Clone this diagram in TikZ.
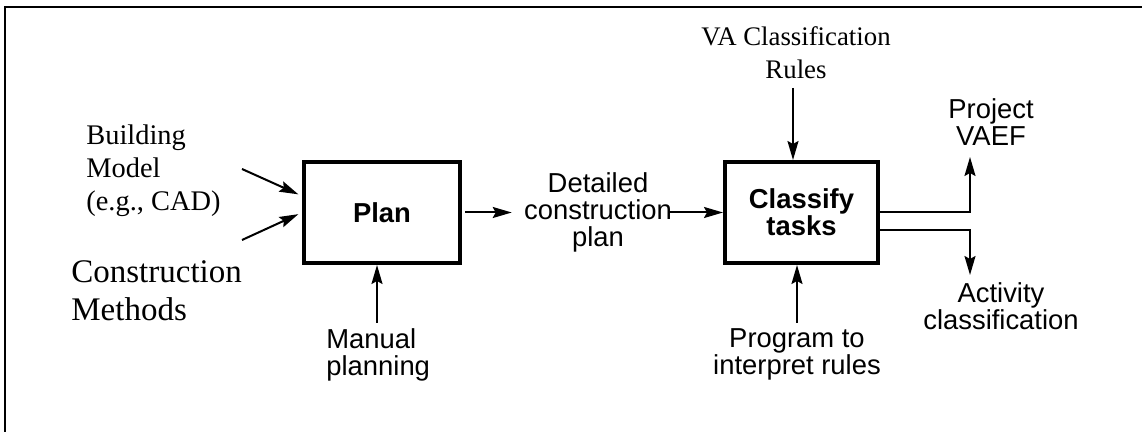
\documentclass[tikz,border=0pt]{standalone}
\usepackage{fontspec}
\setmainfont{Liberation Serif}
\setsansfont{Liberation Sans}
\usetikzlibrary{arrows.meta}
\usetikzlibrary{positioning}
\tikzstyle{process} = [draw, line width=2pt, inner sep=0pt, align=center,
        minimum height=50.5pt, font={\sffamily\bfseries\fontsize{13.7}{13.7}\selectfont}]
\tikzstyle{sanstext} = [inner sep=0pt, font={\sffamily\fontsize{13.7}{13.5}\selectfont}]
\tikzstyle{seriftext} = [inner sep=0pt, align=left, font={\fontsize{14.2}{16.5}\selectfont}]
\tikzstyle{flow} = [-{Stealth[length=9.5pt, width=5.5pt, inset=1.5pt]}, line width=1pt]

\begin{document}
\begin{tikzpicture}[x=0.5pt, y=-0.5pt]
            \useasboundingbox (0,0) rectangle (1142,432);
            \draw [line width=1pt] (5,432) |- (1142,7);
            % boxes
            \node [process, minimum width=78pt] (plan) at (382,212.5) {Plan};
            \node [process, minimum width=76.5pt] (classify) at (801.5,212.5) {Classify\\tasks};
            % inputs and outputs
            \node [seriftext, anchor=north west] (building) at (86,124) {Building\\Model\\(e.g., CAD)};
            \node [seriftext, anchor=north west, font={\fontsize{16.5}{19}\selectfont}] (methods) at (71,260.5) {Construction\\Methods};
            \node [sanstext, align=left, anchor=north west] (manual) at (326,328) {Manual\\planning};
            \node [sanstext, align=center, anchor=north] (detail) at (598,172) {Detailed\\construction\\plan};
            \node [seriftext, align=center, anchor=north, font={\fontsize{13.4}{16.5}\selectfont}] (varules) at (796,26) {VA Classification\\Rules};
            \node [sanstext, align=center, anchor=north] (program) at (797,328) {Program to\\interpret rules};
            \node [sanstext, align=center, anchor=north] (vaef) at (991,98) {Project\\VAEF};
            \node [sanstext, align=center, anchor=north] (activity) at (1001,282) {Activity\\classification};
            % free ends
            \coordinate (buildtail) at (242,169);
            \coordinate (methtail) at (242,240);
            \coordinate (mantail) at (377,323);
            \coordinate (vatail) at (793,88);
            \coordinate (vaefend) at (970,157);
            \coordinate (actend) at (970,275);
            \draw [flow, shorten >=2pt] (buildtail) -- ([yshift=8.25pt]plan.west);
            \draw [flow, shorten >=2pt] (methtail) -- (plan.west);
            \draw [flow] (mantail) -- (mantail |- plan.south);
            \draw [flow, shorten <=1.5pt, shorten >=6pt] (plan.east) -- (detail.west |- plan.east);
            \draw [flow] ([xshift=-1.5pt]detail.east |- classify.west) -- (classify.west);
            \draw [flow] (vatail) -- (vatail |- classify.north);
            \draw [flow] ([yshift=2.5pt]program.north) -- (program.north |- classify.south);
            \draw [flow] (classify.east) -| (vaefend);
            \draw [flow] ([yshift=-9pt]classify.east) -| (actend);
        \end{tikzpicture}
\end{document}
